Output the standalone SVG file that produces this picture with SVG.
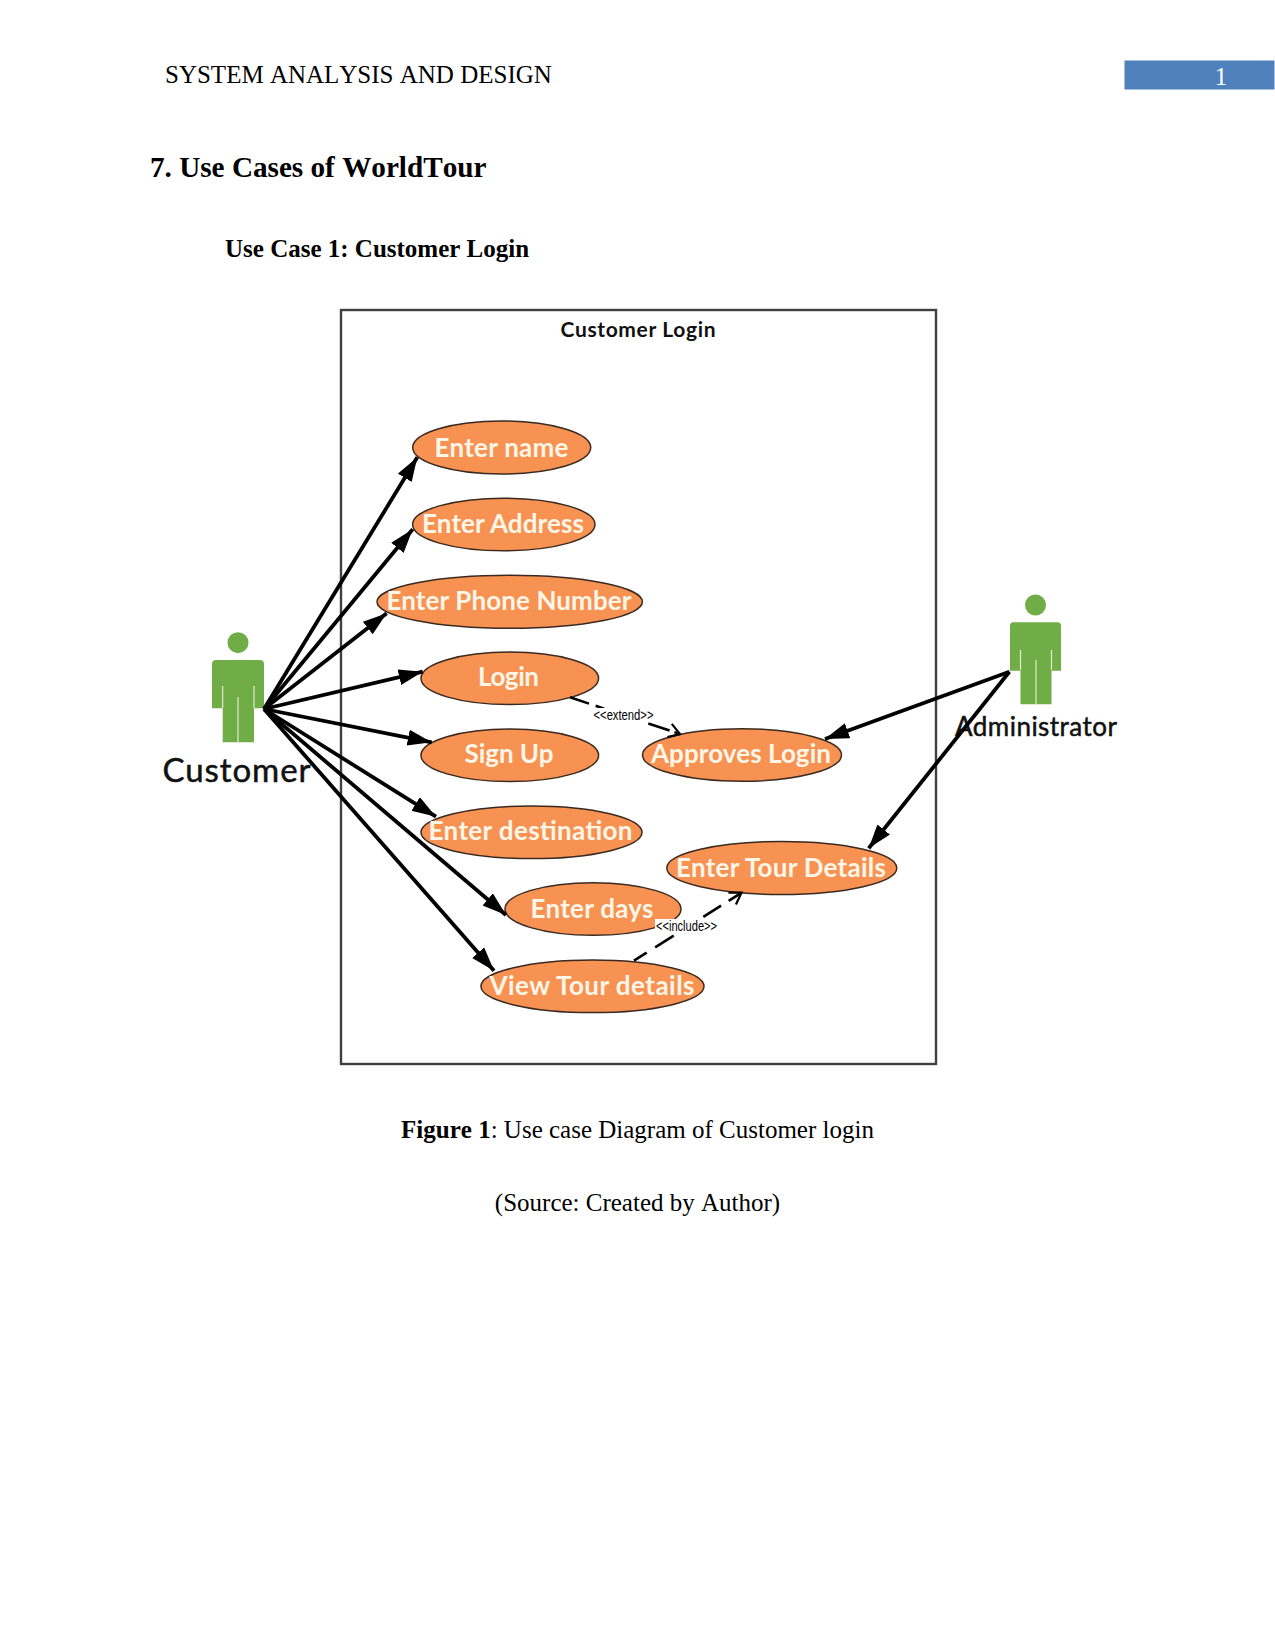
<svg xmlns="http://www.w3.org/2000/svg" width="1275" height="1651" viewBox="0 0 1275 1651">
<style>
.doc{font-family:"Liberation Serif","Times New Roman",serif;fill:#000;font-size:25px;font-kerning:none}
.b{font-weight:bold}
.uc ellipse{fill:#F79252;stroke:#3a2a20;stroke-width:1.5}
.uc text{font-family:Lato,"Liberation Sans",sans-serif;font-size:26px;font-weight:bold;fill:#FFF6E8;text-anchor:middle}
.actor path{fill:#70AD47}
.actor ellipse{fill:#70AD47}
.actor line{stroke:#DDEBD0;stroke-width:1.2}
.actor text{font-family:Lato,"Liberation Sans",sans-serif;fill:#111;stroke:#111;stroke-width:.5;text-anchor:middle}
.as{stroke:#000;stroke-width:3.8;fill:none;marker-end:url(#solid)}
.dash{stroke:#000;stroke-width:2.6;fill:none;marker-end:url(#open)}
.lab{font-family:"Liberation Sans",Arial,sans-serif;font-size:14px;fill:#000;text-anchor:middle}
</style>
<defs>
<marker id="solid" markerUnits="userSpaceOnUse" markerWidth="26" markerHeight="18" refX="24" refY="8" orient="auto"><path d="M0 0L24 8L0 16Z" fill="#000"/></marker>
<marker id="open" markerUnits="userSpaceOnUse" markerWidth="16" markerHeight="18" refX="13" refY="8" orient="auto"><path d="M2 1L13 8L2 15" fill="none" stroke="#000" stroke-width="2.2"/></marker>
</defs>
<rect width="1275" height="1651" fill="#fff"/>
<g id="page">
<text class="doc" x="165" y="83">SYSTEM ANALYSIS AND DESIGN</text>
<rect x="1124.5" y="60.5" width="150" height="29" fill="#4F81BD"/>
<text class="doc" x="1221" y="84.5" text-anchor="middle" style="fill:#fff">1</text>
<text class="doc b" x="150" y="177" style="font-size:29.2px">7. Use Cases of WorldTour</text>
<text class="doc b" x="225" y="257">Use Case 1: Customer Login</text>
<text class="doc" x="637.5" y="1137.5" text-anchor="middle"><tspan class="b">Figure 1</tspan>: Use case Diagram of Customer login</text>
<text class="doc" x="637.5" y="1211" text-anchor="middle">(Source: Created by Author)</text>
</g>
<g id="boundary">
<rect x="341" y="310" width="595" height="754" fill="none" stroke="#404040" stroke-width="2.4"/>
<text x="638" y="336.5" text-anchor="middle" font-family="Lato,'Liberation Sans',sans-serif" font-weight="bold" font-size="21px" fill="#111" textLength="155">Customer Login</text>
</g>
<g id="uc-name" class="uc"><ellipse cx="501.7" cy="447.5" rx="89" ry="26.5"/><text x="501.5" y="456.5" textLength="134">Enter name</text></g>
<g id="uc-address" class="uc"><ellipse cx="503.8" cy="524.5" rx="91.2" ry="26.3"/><text x="503" y="533" textLength="162">Enter Address</text></g>
<g id="uc-phone" class="uc"><ellipse cx="509.7" cy="601.8" rx="132.7" ry="26.5"/><text x="509" y="610" textLength="245">Enter Phone Number</text></g>
<g id="uc-login" class="uc"><ellipse cx="509.8" cy="678.3" rx="88.8" ry="26.3"/><text x="508.5" y="686" textLength="61">Login</text></g>
<g id="uc-signup" class="uc"><ellipse cx="509.8" cy="755.3" rx="88.8" ry="26.3"/><text x="509" y="763" textLength="89">Sign Up</text></g>
<g id="uc-destination" class="uc"><ellipse cx="531.5" cy="832.3" rx="110.5" ry="26.3"/><text x="530.5" y="840" textLength="204">Enter destination</text></g>
<g id="uc-days" class="uc"><ellipse cx="593" cy="909" rx="88" ry="26.3"/><text x="592" y="918" textLength="123">Enter days</text></g>
<g id="uc-view" class="uc"><ellipse cx="592.5" cy="986.3" rx="111.5" ry="26.3"/><text x="592" y="995" textLength="205">View Tour details</text></g>
<g id="uc-approves" class="uc"><ellipse cx="742" cy="755" rx="99.5" ry="26.3"/><text x="741" y="763" textLength="180">Approves Login</text></g>
<g id="uc-tour" class="uc"><ellipse cx="781.8" cy="868" rx="115" ry="26.5"/><text x="781" y="877" textLength="210">Enter Tour Details</text></g>
<g id="customer" class="actor">
<ellipse cx="238" cy="642.7" rx="10.5" ry="10.5"/>
<path d="M216 660H260Q264 660 264 664V708.3H254V742.3H222.7V708.3H212V664Q212 660 216 660Z"/>
<line x1="222.7" y1="686" x2="222.7" y2="708"/><line x1="254" y1="686" x2="254" y2="708"/><line x1="238" y1="697" x2="238" y2="742"/>
<text x="236.5" y="781.5" font-size="33px" textLength="148">Customer</text>
</g>
<g id="administrator" class="actor">
<ellipse cx="1035.5" cy="605" rx="10.5" ry="10.5"/>
<path d="M1013.5 622.3H1057.5Q1061 622.3 1061 626V670.7H1051.5V704.3H1020.5V670.7H1010V626Q1010 622.3 1013.5 622.3Z"/>
<line x1="1020.5" y1="650" x2="1020.5" y2="670"/><line x1="1051.5" y1="650" x2="1051.5" y2="670"/><line x1="1036" y1="660" x2="1036" y2="704"/>
<text x="1036" y="736" font-size="26px" textLength="162">Administrator</text>
</g>
<g id="connectors">
<line class="as" x1="264" y1="709" x2="417.3" y2="457.3"/>
<line class="as" x1="264" y1="709" x2="412.7" y2="529.3"/>
<line class="as" x1="264" y1="709" x2="386.7" y2="613.3"/>
<line class="as" x1="264" y1="709" x2="422.7" y2="671.7"/>
<line class="as" x1="264" y1="709" x2="431.7" y2="742.3"/>
<line class="as" x1="264" y1="709" x2="436" y2="816.7"/>
<line class="as" x1="264" y1="709" x2="506" y2="915"/>
<line class="as" x1="264" y1="709" x2="494" y2="970.7"/>
<line class="as" x1="1009.4" y1="671.7" x2="825" y2="739"/>
<line class="as" x1="1009.4" y1="671.7" x2="868.7" y2="848.3"/>
<line class="dash" x1="570" y1="697.3" x2="680" y2="734" stroke-dasharray="20 7 9 46.5 22.5 5 6"/>
<line class="dash" x1="634" y1="960.7" x2="741.5" y2="892.7" stroke-dasharray="15 10 22 35 21 9 15"/>
<rect x="593" y="708" width="61" height="13" fill="#fff"/>
<text class="lab" x="623.5" y="720" textLength="60" lengthAdjust="spacingAndGlyphs">&lt;&lt;extend&gt;&gt;</text>
<rect x="655" y="919" width="63" height="13" fill="#fff"/>
<text class="lab" x="686.5" y="931" textLength="61" lengthAdjust="spacingAndGlyphs">&lt;&lt;include&gt;&gt;</text>
</g>
</svg>
